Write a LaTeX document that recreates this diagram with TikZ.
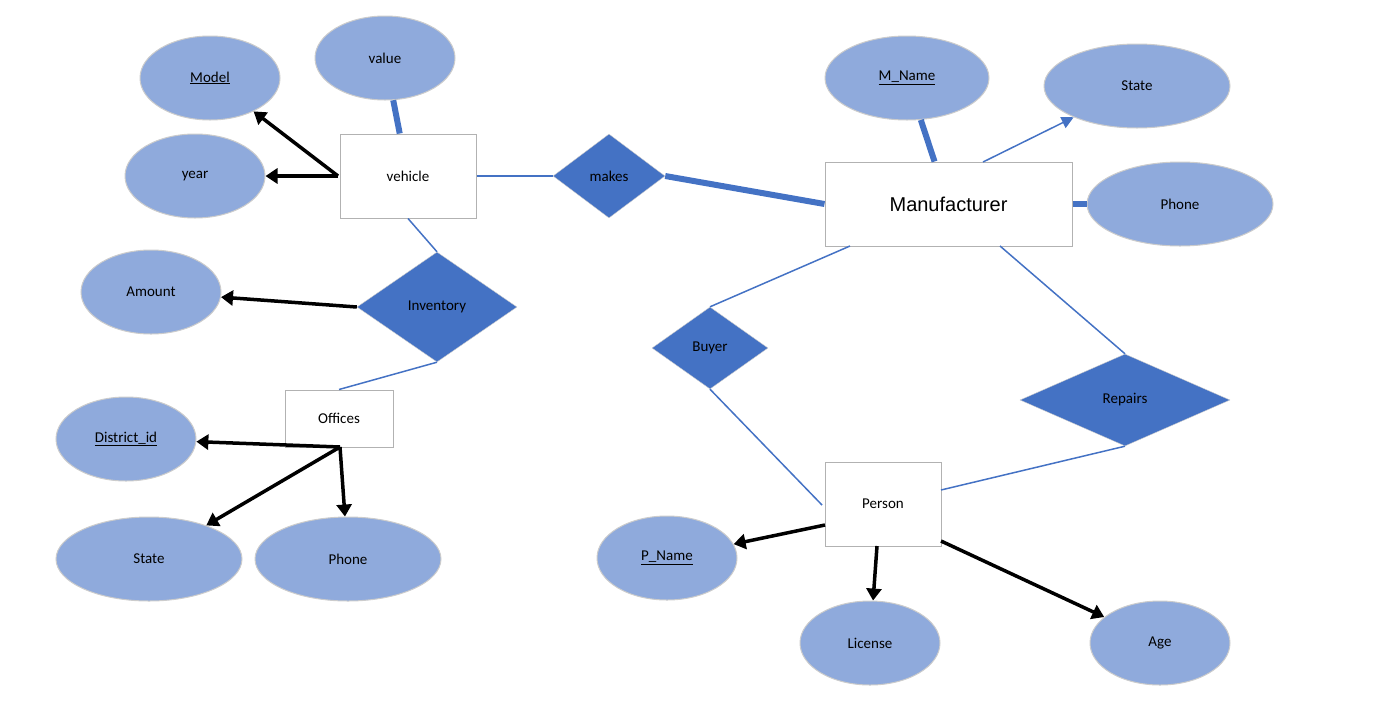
\documentclass[tikz,border=0pt]{standalone}
\usepackage{fontspec}
\setmainfont{Carlito}
\newfontfamily\arialf{Liberation Sans}
\usetikzlibrary{shapes.geometric,arrows.meta}
\definecolor{ell}{HTML}{8FAADC}
\definecolor{dia}{HTML}{4472C4}
\begin{document}
\begin{tikzpicture}[x=1pt,y=-1pt,
 attr/.style={ellipse,fill=ell,draw=gray!40,line width=1pt,minimum width=140pt,minimum height=84pt,inner sep=0pt,font=\fontsize{15}{15}\selectfont},
 wattr/.style={attr,minimum width=186pt},
 ent/.style={rectangle,draw=gray!60,fill=white,line width=1pt,inner sep=0pt,font=\fontsize{15}{15}\selectfont},
 rel/.style={diamond,fill=dia,draw=gray!40,inner sep=0pt,font=\fontsize{15}{15}\selectfont},
 bl/.style={draw=dia,line width=1.5pt},
 tb/.style={draw=dia,line width=6pt},
 ar/.style={draw=black,line width=3.5pt,-{Triangle[length=12pt,width=15pt]}}]
\useasboundingbox (0,0) rectangle (1386,702);
% attributes
\node[attr] (model) at (210,78) {\underline{Model}};
\node[attr] (value) at (385,58) {value};
\node[attr] (year) at (195,176) {year};
\node[attr,minimum width=164pt] (mname) at (907,78) {\underline{M\_Name}};
\node[wattr] (state1) at (1137,86) {State};
\node[wattr] (phone1) at (1180,204) {Phone};
\node[attr] (amount) at (151,292) {Amount};
\node[attr] (dist) at (126,439) {\underline{District\_id}};
\node[wattr] (state2) at (149,559) {State};
\node[wattr] (phone2) at (348,559) {Phone};
\node[attr] (pname) at (667,558) {\underline{P\_Name}};
\node[attr] (lic) at (870,643) {License};
\node[attr] (age) at (1160,643) {Age};
% entities
\node[ent,minimum width=136pt,minimum height=84pt] (veh) at (408,176) {vehicle};
\node[ent,minimum width=247pt,minimum height=84pt,font=\arialf\fontsize{20}{20}\selectfont] (man) at (948.5,204) {Manufacturer};
\node[ent,minimum width=108pt,minimum height=57pt] (off) at (339,418.5) {Offices};
\node[ent,minimum width=116pt,minimum height=84pt] (per) at (883,504) {Person};
% relationships
\node[rel,minimum width=112pt,minimum height=84pt,aspect=1.33] (makes) at (609,176) {makes};
\node[rel,minimum width=160pt,minimum height=110pt,aspect=1.45] (inv) at (437,307) {Inventory};
\node[rel,minimum width=116pt,minimum height=82pt,aspect=1.41] (buyer) at (710,348) {Buyer};
\node[rel,minimum width=210pt,minimum height=92pt,aspect=2.28] (rep) at (1125,400) {Repairs};
% coordinates
\coordinate (vw) at (338,176);
\coordinate (oc) at (340,447);
% connectors
\draw[tb] (value) -- (veh);
\draw[ar] (vw) -- (model);
\draw[ar] (vw) -- (year);
\draw[bl] (veh.east) -- (makes.west);
\draw[tb] (makes.east) -- (man.west);
\draw[tb] (mname) -- (man);
\draw[draw=dia,line width=1.5pt,-{Triangle[length=12pt,width=12pt]}] (983,162) -- (state1);
\draw[tb] (man.east) -- (phone1.west);
\draw[bl] (veh.south) -- (inv.north);
\draw[ar] (inv.west) -- (amount);
\draw[bl] (inv.south) -- (off.north);
\draw[ar] (oc) -- (dist);
\draw[ar] (oc) -- (state2);
\draw[ar] (oc) -- (phone2);
\draw[bl] (850,246) -- (buyer.north);
\draw[bl] (buyer.south) -- (822,505);
\draw[bl] (1000,246) -- (rep.north);
\draw[bl] (rep.south) -- (941,490);
\draw[ar] (825,525) -- (pname);
\draw[ar] (877,546) -- (lic);
\draw[ar] (941,541) -- (age);
\end{tikzpicture}
\end{document}
